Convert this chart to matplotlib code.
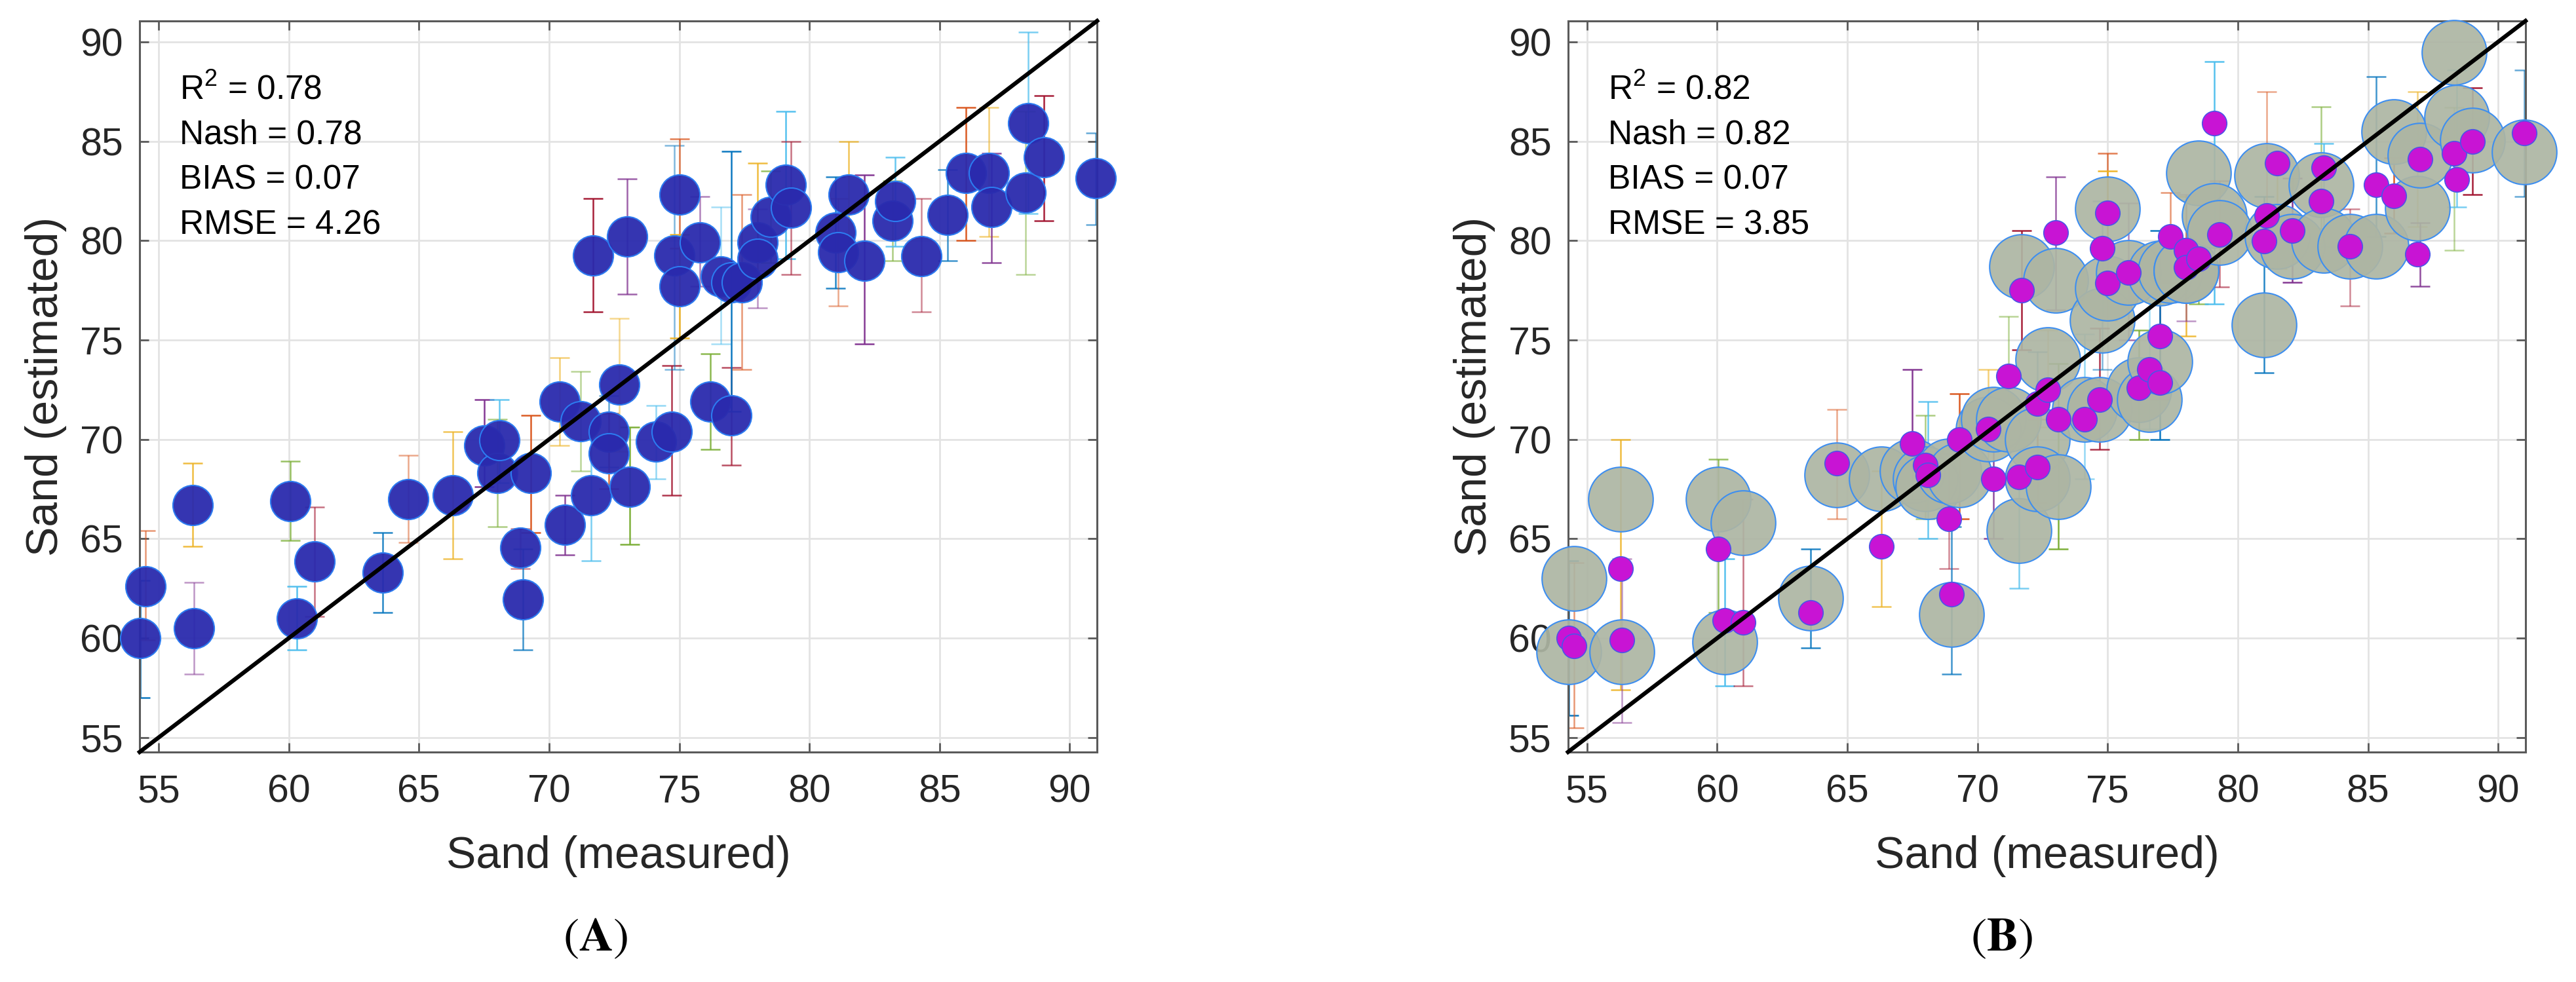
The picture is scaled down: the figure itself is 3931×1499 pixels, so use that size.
import numpy as np
import matplotlib.pyplot as plt

plt.rcParams['font.family'] = ['Liberation Sans', 'DejaVu Sans']
plt.rcParams['mathtext.fontset'] = 'custom'
plt.rcParams['mathtext.rm'] = 'Liberation Sans'
plt.rcParams['mathtext.it'] = 'Liberation Sans'

# measured sand (same samples in both panels)
meas = [54.3, 54.5, 56.3, 56.35, 60.05, 60.3, 61.0, 63.6, 64.6, 66.3,
        67.5, 68.0, 68.1, 68.9, 69.0, 69.3, 70.4, 70.6, 71.2, 71.6,
        71.7, 72.3, 72.3, 72.7, 73.0, 73.1, 74.1, 74.7, 74.8, 75.0,
        75.0, 75.8, 76.2, 76.6, 77.0, 77.0, 77.4, 78.0, 78.0, 78.5,
        79.1, 79.3, 81.0, 81.1, 81.5, 82.1, 83.2, 83.3, 84.3, 85.3,
        86.0, 86.9, 87.0, 88.3, 88.4, 89.0, 91.0]

# panel A: estimated sand and error range
est_a = [60.0, 62.6, 66.7, 60.5, 66.9, 61.0, 63.85, 63.3, 67.0, 67.2,
         69.7, 68.3, 69.95, 64.55, 61.95, 68.3, 71.9, 65.7, 70.9, 67.2,
         79.25, 70.4, 69.3, 72.75, 80.2, 67.6, 69.9, 70.4, 79.25, 82.3,
         77.7, 79.9, 71.9, 78.2, 71.2, 77.9, 77.9, 79.9, 79.1, 81.2,
         82.8, 81.65, 80.4, 79.4, 82.3, 79.0, 81.0, 82.0, 79.2, 81.3,
         83.4, 83.4, 81.7, 82.4, 85.9, 84.2, 83.15]
lo_a = [57.0, 59.9, 64.6, 58.2, 64.9, 59.4, 61.1, 61.3, 64.8, 64.0,
        67.6, 65.6, 67.8, 63.5, 59.4, 65.3, 69.7, 64.2, 68.4, 63.9,
        76.4, 68.6, 67.5, 69.4, 77.3, 64.7, 68.0, 67.2, 73.5, 79.6,
        75.1, 77.7, 69.5, 74.8, 68.7, 71.4, 73.5, 78.5, 76.6, 78.9,
        79.1, 78.3, 77.6, 76.7, 79.6, 74.8, 79.0, 79.7, 76.4, 79.0,
        80.0, 80.2, 78.9, 78.3, 81.35, 81.0, 80.8]
hi_a = [62.9, 65.4, 68.8, 62.8, 68.9, 62.6, 66.6, 65.3, 69.2, 70.4,
        72.0, 71.0, 72.0, 65.5, 64.5, 71.2, 74.1, 67.2, 73.4, 70.0,
        82.1, 72.2, 71.3, 76.1, 83.1, 70.6, 71.7, 73.7, 84.8, 85.1,
        80.3, 82.2, 74.3, 81.7, 73.6, 84.5, 82.3, 83.9, 81.6, 83.5,
        86.5, 85.0, 83.2, 82.1, 85.0, 83.3, 83.0, 84.2, 82.1, 83.55,
        86.7, 86.7, 84.4, 86.5, 90.5, 87.3, 85.4]

# panel B: ensemble (grey), best estimate (magenta) and error range
gray_b = [59.3, 63.0, 67.0, 59.3, 67.0, 59.8, 65.8, 62.0, 68.2, 68.0,
          68.4, 68.0, 67.6, 68.4, 61.2, 68.2, 70.5, 71.0, 71.0, 65.4,
          78.7, 70.0, 68.0, 74.0, 78.0, 67.6, 71.5, 71.5, 76.0, 81.6,
          77.6, 78.4, 72.5, 72.0, 73.9, 78.35, 78.5, 78.5, 78.5, 83.4,
          81.25, 80.4, 75.76, 83.27, 80.2, 79.7, 82.8, 80.0, 79.7, 79.7,
          85.48, 81.63, 84.3, 89.45, 86.2, 85.04, 84.47]
mag_b = [60.0, 59.6, 63.5, 59.9, 64.5, 60.9, 60.8, 61.3, 68.8, 64.6,
         69.8, 68.7, 68.2, 66.0, 62.2, 70.0, 70.5, 68.0, 73.2, 68.1,
         77.5, 71.8, 68.6, 72.5, 80.4, 71.0, 71.0, 72.0, 79.6, 81.4,
         77.85, 78.4, 72.6, 73.5, 75.2, 72.86, 80.2, 79.5, 78.67, 79.1,
         85.9, 80.3, 79.99, 81.25, 83.9, 80.5, 82.0, 83.67, 79.7, 82.8,
         82.26, 79.3, 84.1, 84.4, 83.08, 84.97, 85.4]
lo_b = [56.1, 55.5, 57.4, 55.75, 61.3, 57.6, 57.6, 59.5, 66.0, 61.6,
        67.0, 66.0, 65.0, 63.5, 58.2, 66.0, 68.0, 65.0, 71.3, 62.5,
        74.5, 69.0, 66.8, 70.6, 76.5, 64.5, 68.0, 69.5, 73.5, 77.2,
        76.0, 75.0, 70.0, 70.5, 72.0, 70.0, 77.9, 75.2, 75.96, 76.8,
        76.8, 77.66, 73.34, 80.4, 78.6, 77.9, 80.6, 79.7, 76.7, 80.2,
        80.37, 80.7, 77.7, 79.5, 81.7, 82.3, 82.2]
hi_b = [63.9, 63.8, 70.0, 64.0, 69.0, 64.0, 67.0, 64.5, 71.5, 68.4,
        73.5, 71.2, 71.9, 69.3, 65.6, 72.3, 73.5, 70.2, 76.2, 70.0,
        80.5, 74.4, 71.0, 75.5, 83.2, 73.8, 75.3, 75.6, 82.0, 84.4,
        83.5, 81.9, 75.5, 77.0, 78.0, 80.5, 82.4, 82.2, 82.3, 79.5,
        89.0, 83.0, 82.2, 87.5, 83.8, 83.15, 86.74, 84.9, 81.6, 88.25,
        84.15, 87.5, 80.9, 86.7, 88.57, 87.7, 88.57]

stats_a = ['R$^2$ = 0.78', 'Nash = 0.78', 'BIAS = 0.07', 'RMSE = 4.26']
stats_b = ['R$^2$ = 0.82', 'Nash = 0.82', 'BIAS = 0.07', 'RMSE = 3.85']
ticks = [55, 60, 65, 70, 75, 80, 85, 90]
lim = (54.27, 91.05)

bar_colors = ['#0072BD', '#D95319', '#EDB120', '#7E2F8E', '#77AC30', '#4DBEEE', '#A2142F']
bar_alpha = [0.95, 0.6, 0.85, 0.5, 0.75]


def draw_bars(ax, x, lo, hi):
    for i in range(len(x)):
        c = (lo[i] + hi[i]) / 2
        h = (hi[i] - lo[i]) / 2
        ax.errorbar(x[i], c, yerr=h, fmt='none', ecolor=bar_colors[i % 7],
                    alpha=bar_alpha[i % 5], elinewidth=1.8, capsize=10.5,
                    capthick=1.8, zorder=2)


def style_axes(ax, stats):
    ax.set_xlim(lim)
    ax.set_ylim(lim)
    ax.set_xticks(ticks)
    ax.set_yticks(ticks)
    ax.grid(True, color='#E3E3E3', linewidth=2.0)
    ax.set_axisbelow(True)
    for s in ax.spines.values():
        s.set_color('#5a5a5a')
        s.set_linewidth(2.2)
    ax.tick_params(direction='in', length=10, width=2, colors='#5a5a5a',
                   top=True, right=True, labelsize=42.5, labelcolor='#262626')
    ax.tick_params(axis='x', pad=24)
    ax.tick_params(axis='y', pad=18)
    ax.set_xlabel('Sand (measured)', fontsize=49, color='#262626', va='center')
    ax.set_ylabel('Sand (estimated)', fontsize=49, color='#262626', va='center')
    ax.xaxis.set_label_coords(0.5, -0.1425)
    ax.yaxis.set_label_coords(-0.098, 0.5)
    ys = [0.893, 0.8315, 0.770, 0.708]
    for t, y in zip(stats, ys):
        ax.text(0.042, y, t, transform=ax.transAxes, fontsize=37,
                va='baseline', ha='left', color='black')
    ax.plot(lim, lim, color='black', linewidth=4.5, zorder=6, clip_on=False)


fig = plt.figure(figsize=(39.31, 14.99), dpi=100)
ax_a = fig.add_axes([0.0542, 0.2342, 0.3717, 0.7445])
ax_b = fig.add_axes([0.6087, 0.2342, 0.3717, 0.7445])

# panel A
draw_bars(ax_a, meas, lo_a, hi_a)
ax_a.plot(meas, est_a, 'o', markersize=44, markerfacecolor=(0.165, 0.165, 0.68, 0.95),
          markeredgecolor='#2C7BF0', markeredgewidth=1.5, linestyle='none',
          zorder=4, clip_on=False)
style_axes(ax_a, stats_a)

# panel B
ax_b.plot(meas, gray_b, 'o', markersize=71, markerfacecolor=(0.68, 0.71, 0.64, 0.92),
          markeredgecolor='#3D8EF0', markeredgewidth=1.5, linestyle='none',
          zorder=3, clip_on=False)
draw_bars(ax_b, meas, lo_b, hi_b)
ax_b.plot(meas, mag_b, 'o', markersize=27, markerfacecolor='#C814D4',
          markeredgecolor='#4A55E8', markeredgewidth=1.2, linestyle='none',
          zorder=5, clip_on=False)
style_axes(ax_b, stats_b)

plt.rcParams['mathtext.fontset'] = 'stix'
fig.text(0.231, 0.043, r'($\mathbf{A}$)', fontsize=52, family='STIXGeneral',
         ha='center', va='center')
fig.text(0.777, 0.043, r'($\mathbf{B}$)', fontsize=52, family='STIXGeneral',
         ha='center', va='center')

fig.savefig('out.png', dpi=100)
